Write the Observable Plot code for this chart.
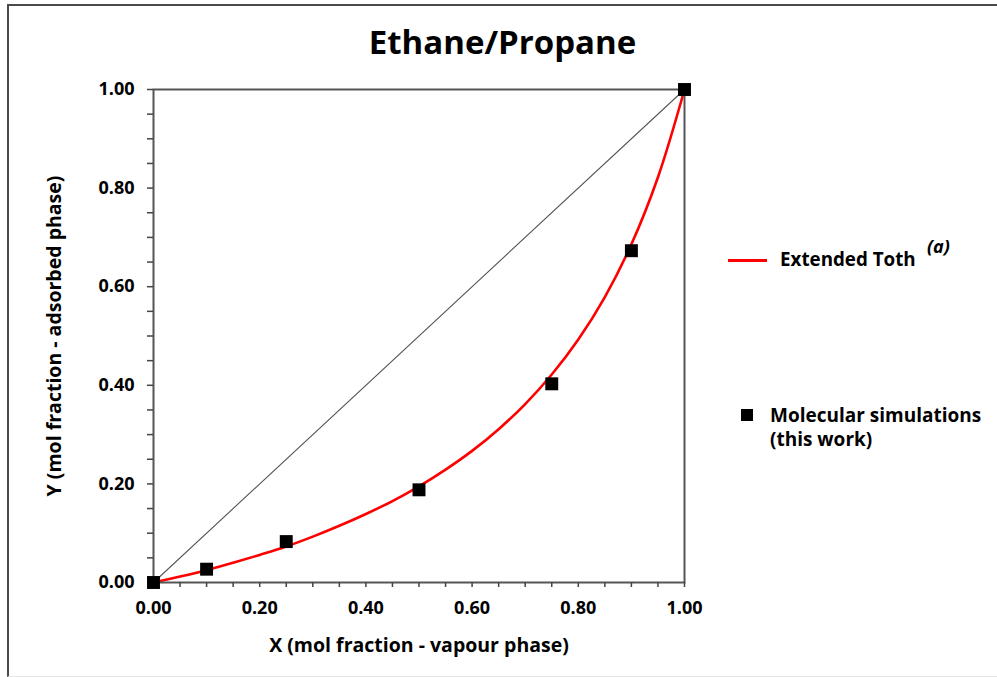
<!DOCTYPE html>
<html>
<head>
<meta charset="utf-8">
<script src="https://cdn.jsdelivr.net/npm/d3@7"></script>
<script src="https://cdn.jsdelivr.net/npm/@observablehq/plot@0.6"></script>
<style>
  html, body { margin: 0; padding: 0; background: #fff; }
  #fig { position: relative; width: 997px; height: 677px; font-family: "Open Sans", Lato, sans-serif; font-weight: 700; color: #000; overflow: hidden; }
  #border { position: absolute; left: 7px; top: 4px; width: 1010px; height: 670px; border: 2px solid #4a4a4a; border-right: none; border-bottom: 1px solid #e6e6e6; }
  #chart { position: absolute; left: 0; top: 0; }
  .t { position: absolute; white-space: nowrap; line-height: 1; }
  #title { left: 0; width: 1005px; text-align: center; top: 25px; font-size: 33px; }
  .swatch-line { position: absolute; left: 728px; top: 259px; width: 39px; height: 3px; background: #ff0000; }
  .swatch-sq { position: absolute; left: 741px; top: 409px; width: 12px; height: 12px; background: #000; }
</style>
</head>
<body>
<div id="fig">
  <div id="border"></div>
  <div id="chart"></div>
  <div class="t" id="title">Ethane/Propane</div>
  <div class="swatch-line"></div>
  <div class="t" style="left:780px;top:250px;font-size:18.8px;">Extended Toth</div>
  <div class="t" style="left:927px;top:237px;font-size:18px;font-style:italic;">(a)</div>
  <div class="swatch-sq"></div>
  <div class="t" style="left:770px;top:403px;font-size:19px;line-height:24px;">Molecular simulations<br>(this work)</div>
</div>
<script>
// Mole fraction of ethane in the vapour phase (x) vs. the adsorbed phase (y)

// Extended Toth model curve
const tothX = [0, 0.05, 0.10, 0.15, 0.20, 0.25, 0.30, 0.35, 0.40, 0.45, 0.50, 0.55, 0.60, 0.65, 0.70, 0.75, 0.80, 0.85, 0.90, 0.95, 1.00];
const tothY = [0, 0.012, 0.025, 0.040, 0.056, 0.073, 0.093, 0.115, 0.139, 0.165, 0.195, 0.229, 0.267, 0.311, 0.362, 0.422, 0.493, 0.579, 0.686, 0.822, 1.00];

// Molecular simulation results
const simX = [0, 0.10, 0.25, 0.50, 0.75, 0.90, 1.00];
const simY = [0, 0.027, 0.083, 0.188, 0.403, 0.673, 1.00];

// y = x reference diagonal
const diagX = [0, 1];
const diagY = [0, 1];

// Axis ticks (every 0.05, labelled every 0.20)
const tickValues = [0, 0.05, 0.10, 0.15, 0.20, 0.25, 0.30, 0.35, 0.40, 0.45, 0.50, 0.55, 0.60, 0.65, 0.70, 0.75, 0.80, 0.85, 0.90, 0.95, 1.00];
const tickLabels = ["0.00", "", "", "", "0.20", "", "", "", "0.40", "", "", "", "0.60", "", "", "", "0.80", "", "", "", "1.00"];

const xLabel = "X (mol fraction - vapour phase)";
const yLabel = "Y (mol fraction - adsorbed phase)";

const toth = tothX.map((x, i) => ({x, y: tothY[i]}));
const sim = simX.map((x, i) => ({x, y: simY[i]}));
const diag = diagX.map((x, i) => ({x, y: diagY[i]}));
const fmt = d => tickLabels[tickValues.findIndex(v => Math.abs(v - d) < 1e-9)] ?? "";

const tickFont = {fontSize: 18, fontWeight: "bold", fill: "#000"};
const labelFont = {fontSize: 19.5, fontWeight: "bold", fill: "#000"};

const chart = Plot.plot({
  width: 997,
  height: 677,
  marginLeft: 153,
  marginRight: 313,
  marginTop: 89,
  marginBottom: 95,
  style: {fontFamily: "'Open Sans', Lato, sans-serif", background: "transparent", overflow: "visible"},
  x: {domain: [0, 1]},
  y: {domain: [0, 1]},
  marks: [
    Plot.line(diag, {x: "x", y: "y", stroke: "#555", strokeWidth: 1.1}),
    Plot.line(toth, {x: "x", y: "y", stroke: "#ff0000", strokeWidth: 2.6, curve: "catmull-rom"}),
    Plot.frame({stroke: "#555", strokeWidth: 2}),
    Plot.axisX({ticks: tickValues, tickFormat: fmt, tickSize: 5, tickPadding: 14, stroke: "#444", strokeWidth: 1.5, label: null, ...tickFont}),
    Plot.axisY({ticks: tickValues, tickFormat: fmt, tickSize: 6, tickPadding: 13, stroke: "#444", strokeWidth: 1.5, label: null, ...tickFont}),
    Plot.dot(sim, {x: "x", y: "y", symbol: "square", r: 7.3, fill: "#000", stroke: "none"}),
    Plot.text([xLabel], {text: d => d, frameAnchor: "bottom", dy: 69, lineAnchor: "bottom", ...labelFont}),
    Plot.text([yLabel], {text: d => d, frameAnchor: "left", textAnchor: "middle", dx: -106, rotate: -90, lineAnchor: "top", ...labelFont})
  ]
});
document.getElementById("chart").appendChild(chart);
</script>
</body>
</html>
